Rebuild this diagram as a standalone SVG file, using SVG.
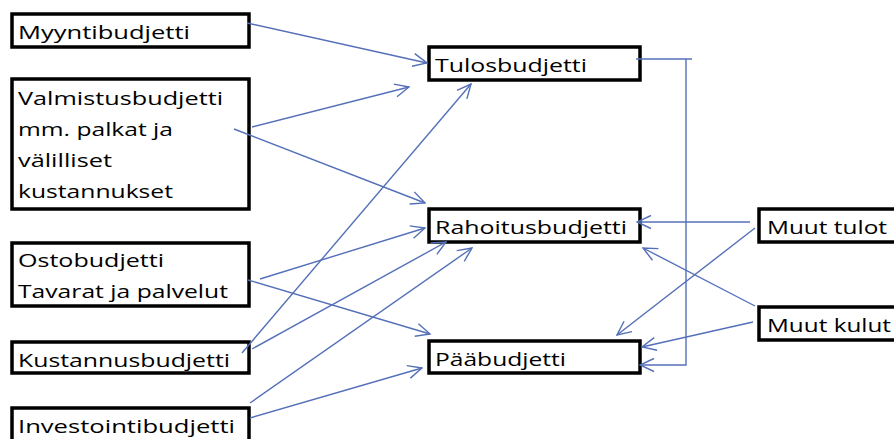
<svg xmlns="http://www.w3.org/2000/svg" width="894" height="439" viewBox="0 0 894 439">
<style>
.box{fill:#fff;stroke:#000;stroke-width:3.5}
.t{font-family:"Open Sans","Noto Sans",sans-serif;font-size:18.5px;fill:#000}
.c{fill:none;stroke:#5470B8;stroke-width:1.4}
</style>
<defs>
<marker id="a" markerUnits="userSpaceOnUse" markerWidth="16" markerHeight="16" viewBox="0 0 16 16" refX="15" refY="8" orient="auto">
<path d="M1,1.5 L15,8 L1,14.5" fill="none" stroke="#5470B8" stroke-width="1.4"/>
</marker>
</defs>
<rect width="894" height="439" fill="#fff"/>
<g id="myynti"><rect class="box" x="12" y="14" width="237" height="33"/><text class="t" x="18" y="39" textLength="172" lengthAdjust="spacingAndGlyphs">Myyntibudjetti</text></g>
<g id="valmistus"><rect class="box" x="12" y="79" width="237" height="130"/>
<text class="t" x="18" y="105" textLength="205" lengthAdjust="spacingAndGlyphs">Valmistusbudjetti</text>
<text class="t" x="18" y="136" textLength="155" lengthAdjust="spacingAndGlyphs">mm. palkat ja</text>
<text class="t" x="18" y="167" textLength="94" lengthAdjust="spacingAndGlyphs">välilliset</text>
<text class="t" x="18" y="198" textLength="155" lengthAdjust="spacingAndGlyphs">kustannukset</text></g>
<g id="osto"><rect class="box" x="12" y="243" width="237" height="63"/>
<text class="t" x="18" y="267" textLength="146" lengthAdjust="spacingAndGlyphs">Ostobudjetti</text>
<text class="t" x="18" y="298" textLength="210" lengthAdjust="spacingAndGlyphs">Tavarat ja palvelut</text></g>
<g id="kustannus"><rect class="box" x="12" y="342" width="237" height="31"/><text class="t" x="18" y="367" textLength="212" lengthAdjust="spacingAndGlyphs">Kustannusbudjetti</text></g>
<g id="investointi"><rect class="box" x="12" y="408" width="237" height="40"/><text class="t" x="18" y="433" textLength="217" lengthAdjust="spacingAndGlyphs">Investointibudjetti</text></g>
<g id="tulos"><rect class="box" x="429" y="47" width="211" height="33"/><text class="t" x="435" y="72" textLength="152" lengthAdjust="spacingAndGlyphs">Tulosbudjetti</text></g>
<g id="rahoitus"><rect class="box" x="429" y="209" width="211" height="33"/><text class="t" x="435" y="234" textLength="192" lengthAdjust="spacingAndGlyphs">Rahoitusbudjetti</text></g>
<g id="paa"><rect class="box" x="429" y="341" width="211" height="32"/><text class="t" x="435" y="366" textLength="131" lengthAdjust="spacingAndGlyphs">Pääbudjetti</text></g>
<g id="muuttulot"><rect class="box" x="759" y="209" width="150" height="33"/><text class="t" x="767" y="234" textLength="120" lengthAdjust="spacingAndGlyphs">Muut tulot</text></g>
<g id="muutkulut"><rect class="box" x="759" y="307" width="150" height="33"/><text class="t" x="767" y="332" textLength="124" lengthAdjust="spacingAndGlyphs">Muut kulut</text></g>
<g id="connectors">
<line class="c" x1="247" y1="23" x2="427" y2="63" marker-end="url(#a)"/>
<line class="c" x1="252" y1="127" x2="409" y2="87" marker-end="url(#a)"/>
<line class="c" x1="234" y1="129" x2="425" y2="203" marker-end="url(#a)"/>
<line class="c" x1="242" y1="353" x2="471" y2="84" marker-end="url(#a)"/>
<line class="c" x1="260" y1="279" x2="425" y2="228" marker-end="url(#a)"/>
<line class="c" x1="248" y1="280" x2="430" y2="334" marker-end="url(#a)"/>
<line class="c" x1="252" y1="349" x2="446" y2="242" marker-end="url(#a)"/>
<line class="c" x1="250" y1="403" x2="472" y2="248" marker-end="url(#a)"/>
<line class="c" x1="250" y1="418" x2="422" y2="368" marker-end="url(#a)"/>
<line class="c" x1="636" y1="59" x2="692" y2="59"/>
<polyline class="c" points="686,59 686,365 640,365" marker-end="url(#a)"/>
<line class="c" x1="750" y1="222" x2="637" y2="222" marker-end="url(#a)"/>
<line class="c" x1="755" y1="228" x2="617" y2="335" marker-end="url(#a)"/>
<line class="c" x1="755" y1="306" x2="643" y2="248" marker-end="url(#a)"/>
<line class="c" x1="753" y1="322" x2="642" y2="347" marker-end="url(#a)"/>
</g>
</svg>
